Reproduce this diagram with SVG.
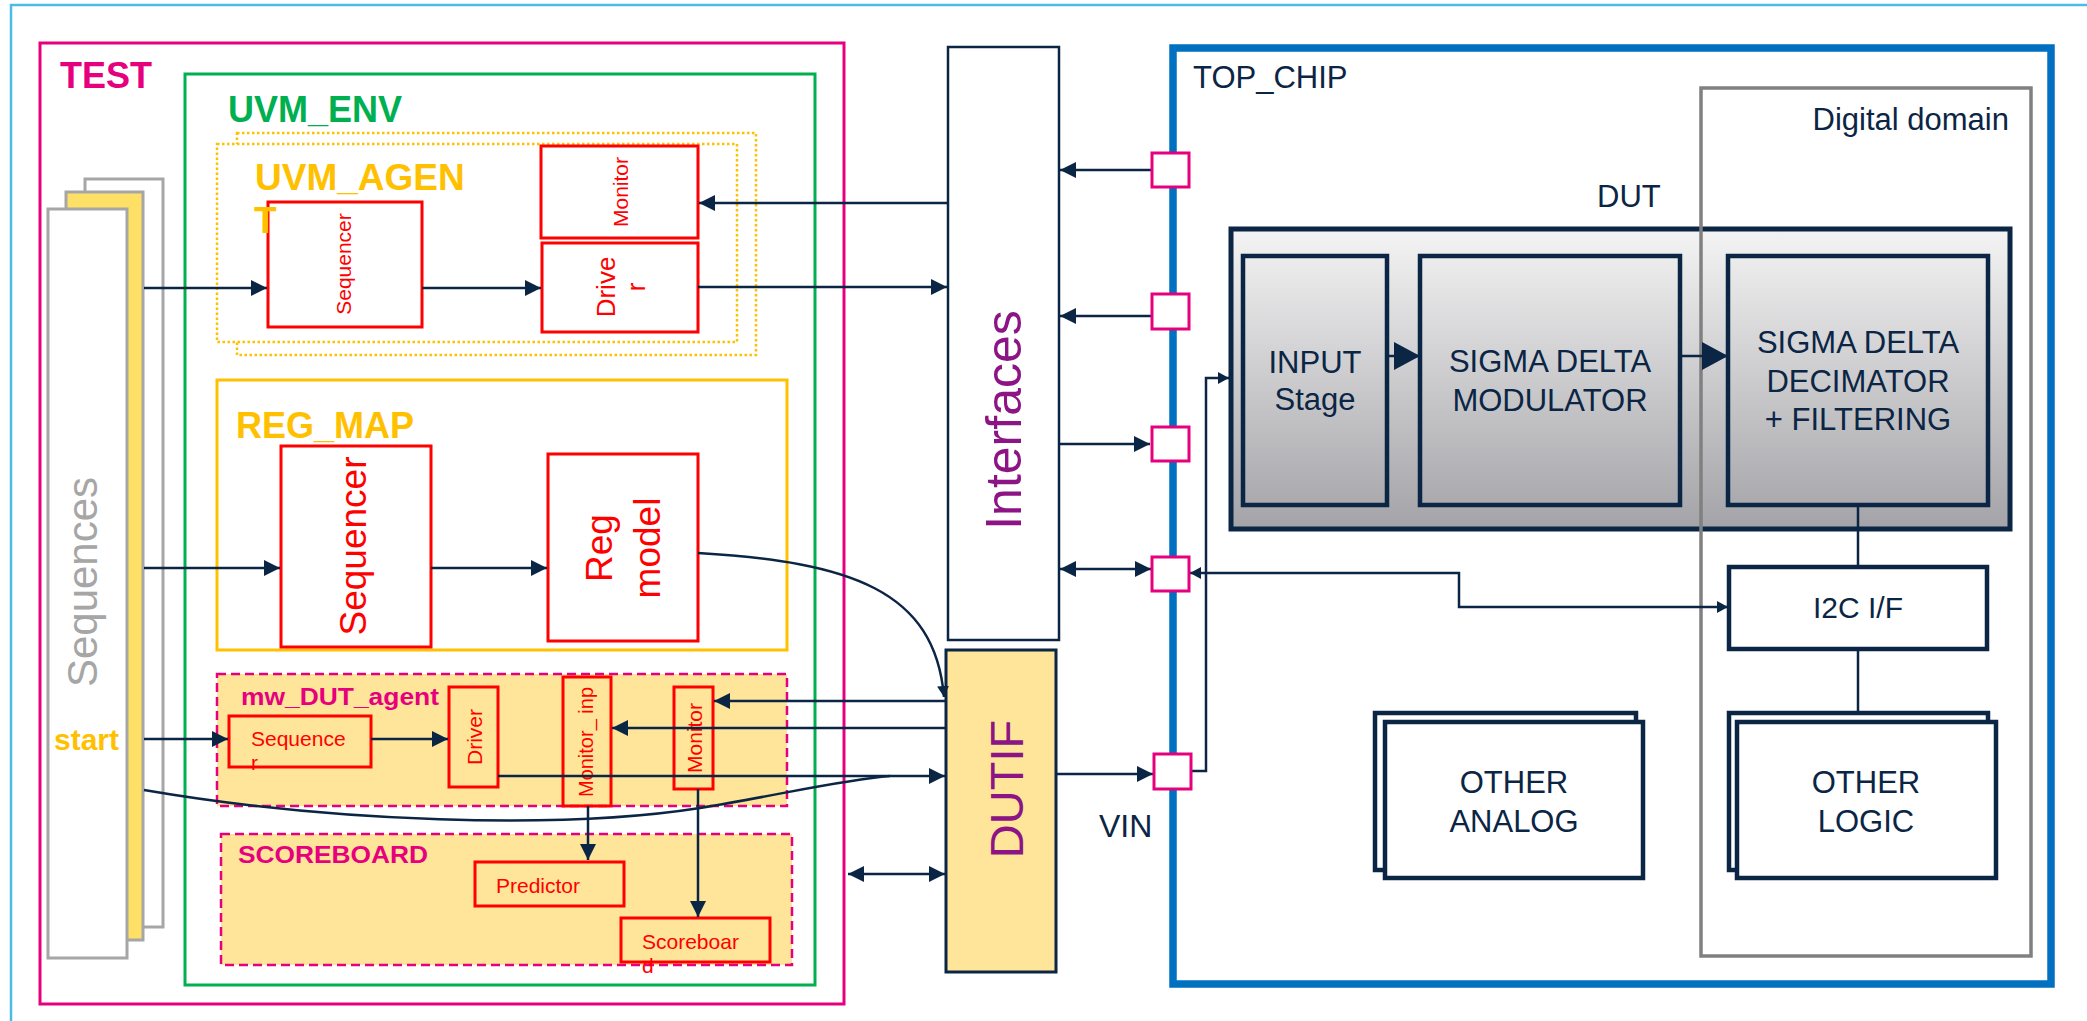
<svg xmlns="http://www.w3.org/2000/svg" width="2087" height="1021" viewBox="0 0 2087 1021">
<style>
text{font-family:"Liberation Sans",Arial,sans-serif}
.red{fill:#fff;stroke:#ff0000;stroke-width:3}
.redy{fill:none;stroke:#ff0000;stroke-width:3}
.rt{fill:#ff0000;font-size:21px}
.nv{fill:#0b2545}
.box{stroke:#0b2545;stroke-width:4.5;fill:url(#g)}
.wbox{stroke:#0b2545;stroke-width:4.5;fill:#fff}
.pad{fill:#fff;stroke:#e6007e;stroke-width:3}
.c{stroke:#0b2545;stroke-width:2.5;fill:none}
.t31{font-size:31px;fill:#0b2545;text-anchor:middle}
.seq{fill:#fff;stroke:#a6a6a6;stroke-width:3}
</style>
<defs>
<linearGradient id="g" gradientUnits="userSpaceOnUse" x1="0" y1="229" x2="0" y2="529">
<stop offset="0" stop-color="#f4f4f4"/><stop offset="1" stop-color="#a3a3a8"/>
</linearGradient>
<marker id="ah" viewBox="0 0 16 16" markerWidth="16" markerHeight="16" refX="16" refY="8" orient="auto-start-reverse" markerUnits="userSpaceOnUse"><path d="M0,0 L16,8 L0,16 z" fill="#0b2545"/></marker>
<marker id="ab" viewBox="0 0 26 28" markerWidth="26" markerHeight="28" refX="26" refY="14" orient="auto" markerUnits="userSpaceOnUse"><path d="M0,0 L26,14 L0,28 z" fill="#0b2545"/></marker>
<marker id="as" viewBox="0 0 11 12" markerWidth="11" markerHeight="12" refX="11" refY="6" orient="auto-start-reverse" markerUnits="userSpaceOnUse"><path d="M0,0 L11,6 L0,12 z" fill="#0b2545"/></marker>
</defs>
<rect width="2087" height="1021" fill="#fff"/>
<path d="M11,1021 L11,5 L2087,5" fill="none" stroke="#4cbbea" stroke-width="2.5"/>

<g id="test">
<rect x="40" y="43" width="804" height="961" fill="none" stroke="#e6007e" stroke-width="3"/>
<text x="60" y="88" font-size="36" font-weight="bold" fill="#e6007e">TEST</text>
</g>

<g id="sequences">
<rect class="seq" x="85" y="179" width="78" height="748"/>
<rect class="seq" x="66" y="192" width="77" height="748" style="fill:#ffe066"/>
<rect class="seq" x="48" y="209" width="79" height="749"/>
<text transform="translate(97,582) rotate(-90)" text-anchor="middle" font-size="42" fill="#a6a6a6">Sequences</text>
<text x="54" y="750" font-size="30" font-weight="bold" fill="#ffc000">start</text>
</g>

<g id="uvm_env">
<rect x="185" y="74" width="630" height="911" fill="none" stroke="#00b050" stroke-width="3"/>
<text x="228" y="122" font-size="36" font-weight="bold" fill="#00b050">UVM_ENV</text>
</g>

<g id="uvm_agent">
<rect x="237" y="133" width="519" height="222" fill="#fff" stroke="#ffc000" stroke-width="2.5" stroke-dasharray="2.5,2.5"/>
<rect x="217" y="144" width="520" height="198" fill="#fff" stroke="#ffc000" stroke-width="2.5" stroke-dasharray="2.5,2.5"/>
</g>
<g id="agent_sequencer">
<rect class="red" x="268" y="202" width="154" height="125"/>
<text class="rt" transform="translate(351,264) rotate(-90)" text-anchor="middle">Sequencer</text>
</g>
<g id="agent_label">
<text x="255" y="190" font-size="37" font-weight="bold" fill="#ffc000">UVM_AGEN</text>
<text x="254" y="233" font-size="37" font-weight="bold" fill="#ffc000">T</text>
</g>
<g id="agent_monitor">
<rect class="red" x="541" y="146" width="157" height="92"/>
<text class="rt" transform="translate(628,192) rotate(-90)" text-anchor="middle">Monitor</text>
</g>
<g id="agent_driver">
<rect class="red" x="542" y="243" width="156" height="89"/>
<text transform="translate(615,287) rotate(-90)" text-anchor="middle" font-size="26" fill="#ff0000"><tspan x="0" y="0">Drive</tspan><tspan x="0" y="30">r</tspan></text>
</g>

<g id="reg_map">
<rect x="217" y="380" width="570" height="270" fill="#fff" stroke="#ffc000" stroke-width="3"/>
<text x="236" y="438" font-size="36" font-weight="bold" fill="#ffc000">REG_MAP</text>
</g>
<g id="reg_sequencer">
<rect class="red" x="281" y="446" width="150" height="201"/>
<text transform="translate(366,546) rotate(-90)" text-anchor="middle" font-size="37" fill="#ff0000">Sequencer</text>
</g>
<g id="reg_model">
<rect class="red" x="548" y="454" width="150" height="187"/>
<text transform="translate(612,548) rotate(-90)" text-anchor="middle" font-size="37" fill="#ff0000"><tspan x="0" y="0">Reg</tspan><tspan x="0" y="48">model</tspan></text>
</g>

<g id="mw_dut_agent">
<rect x="217" y="674" width="570" height="132" fill="#ffe599" stroke="#e6007e" stroke-width="2.5" stroke-dasharray="9,5"/>
<text x="241" y="705" font-size="23" font-weight="bold" fill="#e6007e" textLength="198" lengthAdjust="spacingAndGlyphs">mw_DUT_agent</text>
</g>
<g id="mw_sequencer">
<rect class="redy" x="229" y="716" width="142" height="51"/>
<text class="rt" x="251" y="746">Sequence</text>
<text class="rt" x="251" y="770">r</text>
</g>
<g id="mw_driver">
<rect class="redy" x="449" y="687" width="49" height="100"/>
<text class="rt" transform="translate(482,737) rotate(-90)" text-anchor="middle">Driver</text>
</g>
<g id="mw_monitor_inp">
<rect class="redy" x="563" y="677" width="48" height="129"/>
<text transform="translate(593,742) rotate(-90)" text-anchor="middle" font-size="20" fill="#ff0000">Monitor_ inp</text>
</g>
<g id="mw_monitor">
<rect class="redy" x="674" y="687" width="39" height="102"/>
<text class="rt" transform="translate(702,738) rotate(-90)" text-anchor="middle">Monitor</text>
</g>

<g id="scoreboard_env">
<rect x="221" y="834" width="571" height="131" fill="#ffe599" stroke="#e6007e" stroke-width="2.5" stroke-dasharray="9,5"/>
<text x="238" y="863" font-size="23" font-weight="bold" fill="#e6007e" textLength="190" lengthAdjust="spacingAndGlyphs">SCOREBOARD</text>
</g>
<g id="predictor">
<rect class="redy" x="475" y="862" width="149" height="44"/>
<text class="rt" x="496" y="893">Predictor</text>
</g>
<g id="scoreboard">
<rect class="redy" x="621" y="918" width="149" height="44"/>
<text class="rt" x="642" y="949">Scoreboar</text>
<text class="rt" x="642" y="973">d</text>
</g>

<g id="interfaces">
<rect x="948" y="47" width="111" height="593" fill="#fff" stroke="#0b2545" stroke-width="2.5"/>
<text transform="translate(1021,420) rotate(-90)" text-anchor="middle" font-size="50" fill="#8c1484">Interfaces</text>
</g>
<g id="dutif">
<rect x="946" y="650" width="110" height="322" fill="#ffe599" stroke="#0b2545" stroke-width="3"/>
<text transform="translate(1023,789) rotate(-90)" text-anchor="middle" font-size="47" fill="#8c1484">DUTIF</text>
</g>

<g id="top_chip">
<rect x="1173" y="48" width="878" height="936" fill="#fff" stroke="#0070c0" stroke-width="7.5"/>
<text x="1193" y="88" font-size="31" class="nv">TOP_CHIP</text>
</g>

<g id="dut">
<rect x="1231" y="229" width="779" height="300" stroke="#0b2545" stroke-width="5" fill="url(#g)"/>
<text x="1597" y="207" font-size="31" class="nv">DUT</text>
</g>
<g id="input_stage">
<rect class="box" x="1243" y="256" width="144" height="249"/>
<text class="t31" x="1315" y="373">INPUT</text>
<text class="t31" x="1315" y="410">Stage</text>
</g>
<g id="sd_modulator">
<rect class="box" x="1420" y="256" width="260" height="249"/>
<text class="t31" x="1550" y="372">SIGMA DELTA</text>
<text class="t31" x="1550" y="411">MODULATOR</text>
</g>
<g id="sd_decimator">
<rect class="box" x="1728" y="256" width="260" height="249"/>
<text class="t31" x="1858" y="353">SIGMA DELTA</text>
<text class="t31" x="1858" y="392">DECIMATOR</text>
<text class="t31" x="1858" y="430">+ FILTERING</text>
</g>
<g id="i2c_if">
<rect class="wbox" x="1729" y="567" width="258" height="82"/>
<text class="t31" x="1858" y="618" style="font-size:30px">I2C I/F</text>
</g>
<g id="other_analog">
<rect class="wbox" x="1375" y="713" width="261" height="157"/>
<rect class="wbox" x="1385" y="722" width="258" height="156"/>
<text class="t31" x="1514" y="793">OTHER</text>
<text class="t31" x="1514" y="832">ANALOG</text>
</g>
<g id="other_logic">
<rect class="wbox" x="1729" y="713" width="259" height="157"/>
<rect class="wbox" x="1737" y="722" width="259" height="156"/>
<text class="t31" x="1866" y="793">OTHER</text>
<text class="t31" x="1866" y="832">LOGIC</text>
</g>
<g id="digital_domain">
<rect x="1701" y="88" width="330" height="868" fill="none" stroke="#808080" stroke-width="3.5"/>
<text x="2009" y="130" font-size="31" text-anchor="end" class="nv">Digital domain</text>
</g>

<g id="connectors">
<path class="c" d="M144,288 H267" marker-end="url(#ah)"/>
<path class="c" d="M422,288 H541" marker-end="url(#ah)"/>
<path class="c" d="M698,287 H947" marker-end="url(#ah)"/>
<path class="c" d="M948,203 H699" marker-end="url(#ah)"/>
<path class="c" d="M144,568 H280" marker-end="url(#ah)"/>
<path class="c" d="M431,568 H547" marker-end="url(#ah)"/>
<path class="c" d="M698,553 C850,562 935,590 944,697" marker-end="url(#as)"/>
<path class="c" d="M144,739 H228" marker-end="url(#ah)"/>
<path class="c" d="M371,739 H448" marker-end="url(#ah)"/>
<path class="c" d="M498,776 H945" marker-end="url(#ah)"/>
<path class="c" d="M946,701 H714" marker-end="url(#ah)"/>
<path class="c" d="M946,728 H612" marker-end="url(#ah)"/>
<path class="c" d="M588,806 V860" marker-end="url(#ah)"/>
<path class="c" d="M698,789 V917" marker-end="url(#ah)"/>
<path class="c" d="M144,790 C330,822 560,830 700,808 C780,795 840,780 890,776"/>
<path class="c" stroke-width="4" d="M848,874 H945" marker-start="url(#ah)" marker-end="url(#ah)"/>
<path class="c" d="M1151,170 H1060" marker-end="url(#ah)"/>
<path class="c" d="M1151,316 H1060" marker-end="url(#ah)"/>
<path class="c" d="M1059,444 H1150" marker-end="url(#ah)"/>
<path class="c" stroke-width="3.5" d="M1060,569 H1151" marker-start="url(#ah)" marker-end="url(#ah)"/>
<path class="c" stroke-width="4" d="M1190,573 H1459 V607 H1728" marker-start="url(#as)" marker-end="url(#as)"/>
<path class="c" d="M1057,774 H1153" marker-end="url(#ah)"/>
<path class="c" stroke-width="4" d="M1191,771 H1206 V378 H1229" marker-end="url(#as)"/>
<path class="c" stroke-width="4" d="M1387,356 H1420" marker-end="url(#ab)"/>
<path class="c" stroke-width="4" d="M1680,356 H1728" marker-end="url(#ab)"/>
<path class="c" stroke-width="3" d="M1858,505 V567"/>
<path class="c" stroke-width="3" d="M1858,649 V713"/>
</g>

<g id="pads">
<rect class="pad" x="1152" y="153" width="37" height="34"/>
<rect class="pad" x="1152" y="294" width="37" height="35"/>
<rect class="pad" x="1152" y="427" width="37" height="34"/>
<rect class="pad" x="1152" y="557" width="37" height="34"/>
<rect class="pad" x="1154" y="754" width="37" height="35"/>
<text x="1099" y="837" font-size="32" class="nv">VIN</text>
</g>
</svg>
